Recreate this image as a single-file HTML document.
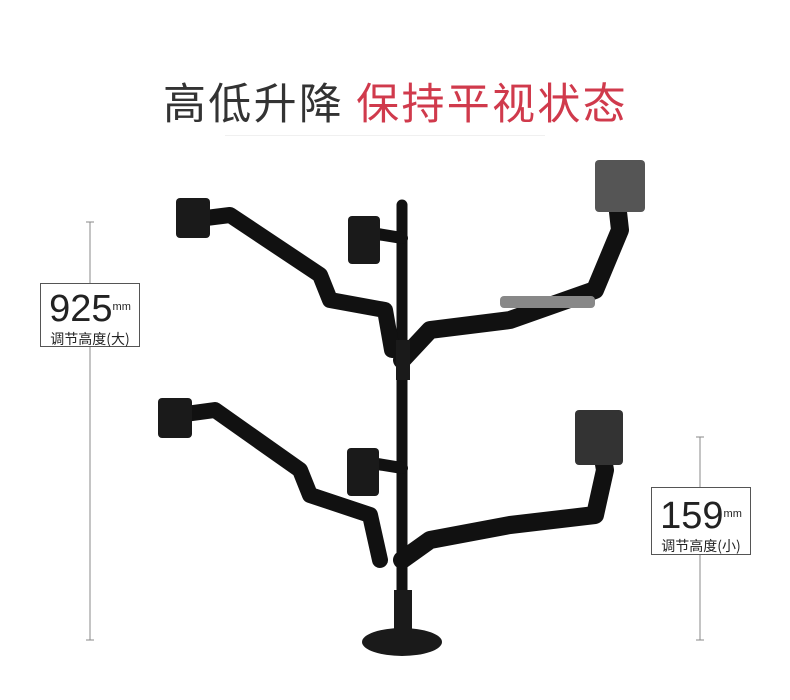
<!DOCTYPE html>
<html><head><meta charset="utf-8"><style>
body{margin:0;background:#fff;width:790px;height:700px;overflow:hidden;position:relative;font-family:"Liberation Sans","Noto Sans CJK SC",sans-serif}
.t{position:absolute;top:70px;left:163px;font-size:43px;letter-spacing:2.3px;white-space:nowrap;font-family:"Noto Sans CJK SC",sans-serif}
.box{position:absolute;background:#fff;text-align:center;color:#222}
.n{font-size:38px;line-height:40px;font-family:"Liberation Sans",sans-serif}
.n sup{font-size:11px;vertical-align:top;position:relative;top:-2px}
.c{font-size:14px;font-family:"Noto Sans CJK SC",sans-serif}
</style></head><body>
<div class="t"><span style="color:#333">高低升降</span> <span style="color:#d03a4c">保持平视状态</span></div>
<div style="position:absolute;left:225px;top:135px;width:320px;height:1px;background:#f0f0f0"></div>
<svg width="790" height="700" style="position:absolute;left:0;top:0">
<g stroke="#888" stroke-width="1" fill="none">
<line x1="90" y1="222" x2="90" y2="640"/><line x1="86" y1="222" x2="94" y2="222"/><line x1="86" y1="640" x2="94" y2="640"/>
<line x1="700" y1="437" x2="700" y2="640"/><line x1="696" y1="437" x2="704" y2="437"/><line x1="696" y1="640" x2="704" y2="640"/>
</g>
<g stroke="#111" fill="none" stroke-linecap="round" stroke-linejoin="round">
<line x1="402" y1="205" x2="402" y2="600" stroke-width="11"/>
<polyline points="190,220 230,215 320,275 330,300 385,310 392,350" stroke-width="16"/>
<polyline points="365,232 402,238" stroke-width="12"/>
<polyline points="402,360 430,330 510,320 595,290 620,230 615,185" stroke-width="18"/>
<polyline points="178,415 215,410 300,470 310,495 370,515 380,560" stroke-width="16"/>
<polyline points="365,462 402,468" stroke-width="12"/>
<polyline points="402,560 430,540 510,525 595,515 605,470 598,430" stroke-width="18"/>
</g>
<g fill="#1a1a1a">
<rect x="176" y="198" width="34" height="40" rx="4"/>
<rect x="348" y="216" width="32" height="48" rx="4"/>
<rect x="595" y="160" width="50" height="52" rx="4" fill="#555"/>
<rect x="158" y="398" width="34" height="40" rx="4"/>
<rect x="347" y="448" width="32" height="48" rx="4"/>
<rect x="575" y="410" width="48" height="55" rx="4" fill="#333"/>
<rect x="396" y="340" width="14" height="40"/>
<rect x="394" y="590" width="18" height="45"/>
<ellipse cx="402" cy="642" rx="40" ry="14"/>
</g>
<rect x="500" y="296" width="95" height="12" fill="#888" rx="4"/>
</svg>
<div class="box" style="left:40px;top:283px;width:98px;height:62px;border:1px solid #555">
<div class="n" style="margin-top:5px">925<sup>mm</sup></div><div class="c">调节高度(大)</div></div>
<div class="box" style="left:651px;top:487px;width:98px;height:66px;border:1px solid #555">
<div class="n" style="margin-top:8px">159<sup>mm</sup></div><div class="c">调节高度(小)</div></div>
</body></html>
